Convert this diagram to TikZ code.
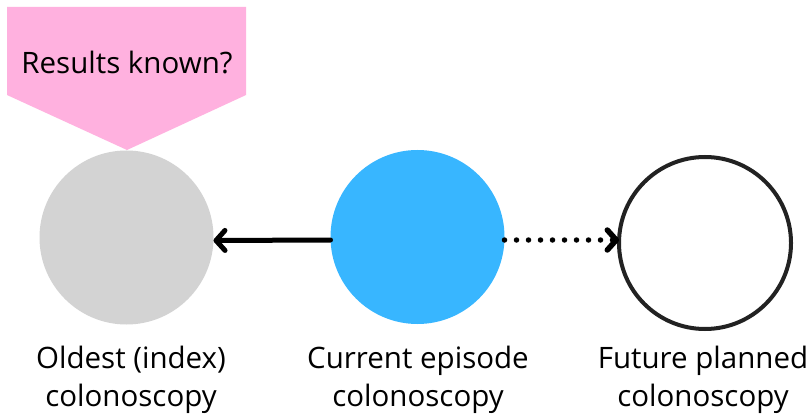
\documentclass[tikz,border=0pt]{standalone}
\usepackage{fontspec}
\setmainfont{Open Sans}
\usetikzlibrary{arrows.meta}
\definecolor{pinkc}{HTML}{FFB1DF}
\definecolor{bluec}{HTML}{38B6FF}
\definecolor{grayc}{HTML}{D3D3D3}
\definecolor{ringc}{HTML}{222222}
\begin{document}
\begin{tikzpicture}[x=1pt,y=-1pt,
  lbl/.style={align=center,font=\fontsize{29.5}{38}\selectfont,inner sep=0pt},
  disc/.style={circle,minimum size=174pt,inner sep=0pt,outer sep=0pt},
  conn/.style={line width=5pt,line cap=round,-{Straight Barb[length=9pt,width=20pt,round]}}]
\useasboundingbox (0,0) rectangle (810,414);
\fill[white] (0,0) rectangle (810,414);
\fill[pinkc] (7,7) -- (246,7) -- (246,95) -- (127,150) -- (7,95) -- cycle;
\node[lbl] (q) at (127,63) {Results known?};
\node[disc,fill=grayc] (old) at (126.5,237.5) {};
\node[disc,fill=bluec] (cur) at (417.5,237) {};
\node[disc,draw=ringc,line width=4pt,minimum size=172pt] (fut) at (705,243) {};
\draw[conn] ([yshift=-3pt]cur.west) -- ([yshift=-3pt]old.east);
\draw[conn,line width=5.5pt,dash pattern=on 0pt off 12pt] ([yshift=-3pt]cur.east) -- (fut.178);
\node[lbl] (l1) at (131,380) {Oldest (index)\\colonoscopy};
\node[lbl] (l2) at (418,380) {Current episode\\colonoscopy};
\node[lbl] (l3) at (703,380) {Future planned\\colonoscopy};
\end{tikzpicture}
\end{document}
